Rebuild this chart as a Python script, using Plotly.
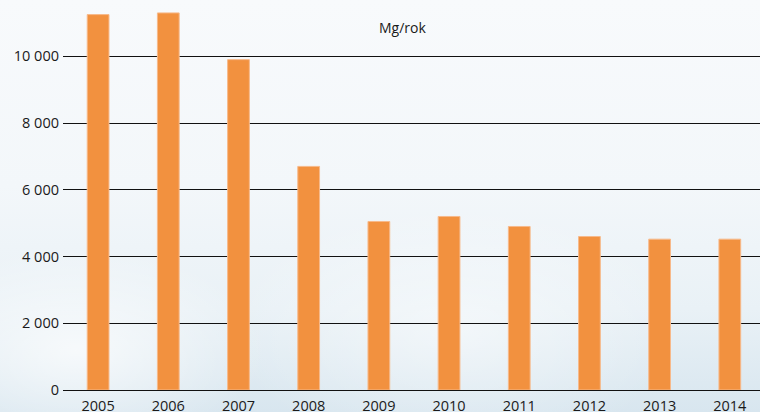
import plotly.graph_objects as go
import base64

years = ["2005", "2006", "2007", "2008", "2009", "2010", "2011", "2012", "2013", "2014"]
values = [11250, 11300, 9900, 6700, 5050, 5200, 4900, 4600, 4520, 4520]
y_ticks = [0, 2000, 4000, 6000, 8000, 10000]
y_tick_labels = ["0", "2 000", "4 000", "6 000", "8 000", "10 000"]
unit_label = "Mg/rok"

svg = """<svg xmlns='http://www.w3.org/2000/svg' width='760' height='412'>
<defs><linearGradient id='g' x1='0' y1='0' x2='0' y2='1'>
<stop offset='0' stop-color='#f8fafc'/>
<stop offset='0.45' stop-color='#f3f7fa'/>
<stop offset='0.75' stop-color='#e9f1f6'/>
<stop offset='1' stop-color='#d8e6ef'/>
</linearGradient>
<radialGradient id='c1' cx='0.1' cy='0.85' r='0.25'>
<stop offset='0' stop-color='#ffffff' stop-opacity='0.7'/>
<stop offset='1' stop-color='#ffffff' stop-opacity='0'/>
</radialGradient>
<radialGradient id='c2' cx='0.6' cy='0.8' r='0.3'>
<stop offset='0' stop-color='#ffffff' stop-opacity='0.5'/>
<stop offset='1' stop-color='#ffffff' stop-opacity='0'/>
</radialGradient>
</defs>
<rect width='760' height='412' fill='url(#g)'/>
<rect width='760' height='412' fill='url(#c1)'/>
<rect width='760' height='412' fill='url(#c2)'/>
</svg>"""
bg_uri = "data:image/svg+xml;base64," + base64.b64encode(svg.encode()).decode()

fig = go.Figure()
fig.add_trace(go.Bar(
    x=years, y=values,
    marker=dict(color="#F2913F", line=dict(color="#F7B98A", width=1)),
    width=0.31,
))

fig.update_layout(
    width=760, height=412,
    margin=dict(l=63, r=0, t=0, b=22, autoexpand=False),
    paper_bgcolor="#f4f7fa",
    plot_bgcolor="rgba(0,0,0,0)",
    font=dict(family="Open Sans", size=14, color="#1a1a1a"),
    showlegend=False,
    images=[dict(source=bg_uri, xref="paper", yref="paper", x=-63/697, y=1,
                 sizex=760/697, sizey=412/390, sizing="stretch",
                 xanchor="left", yanchor="top", layer="below")],
    annotations=[dict(text=unit_label, xref="paper", yref="paper",
                      x=(402-63)/697, y=(390-28)/390, showarrow=False,
                      font=dict(size=14, color="#1a1a1a"),
                      xanchor="center", yanchor="middle")],
    xaxis=dict(type="category", range=[-0.5, 9.43], showgrid=False,
               showline=False, ticks="", ticklabelstandoff=5,
               automargin=False, tickfont=dict(size=14.5)),
    yaxis=dict(range=[0, 11687], tickvals=y_ticks, ticktext=y_tick_labels,
               showgrid=True, gridcolor="#111111", gridwidth=1.3,
               zeroline=True, zerolinecolor="#111111", zerolinewidth=1.3,
               showline=False, ticks="", ticklabelstandoff=3,
               automargin=False, tickfont=dict(size=14.5)),
)

fig.write_html("out.html", config={"displayModeBar": False},
               post_script="document.body.style.margin='0';document.body.style.overflow='hidden';")
